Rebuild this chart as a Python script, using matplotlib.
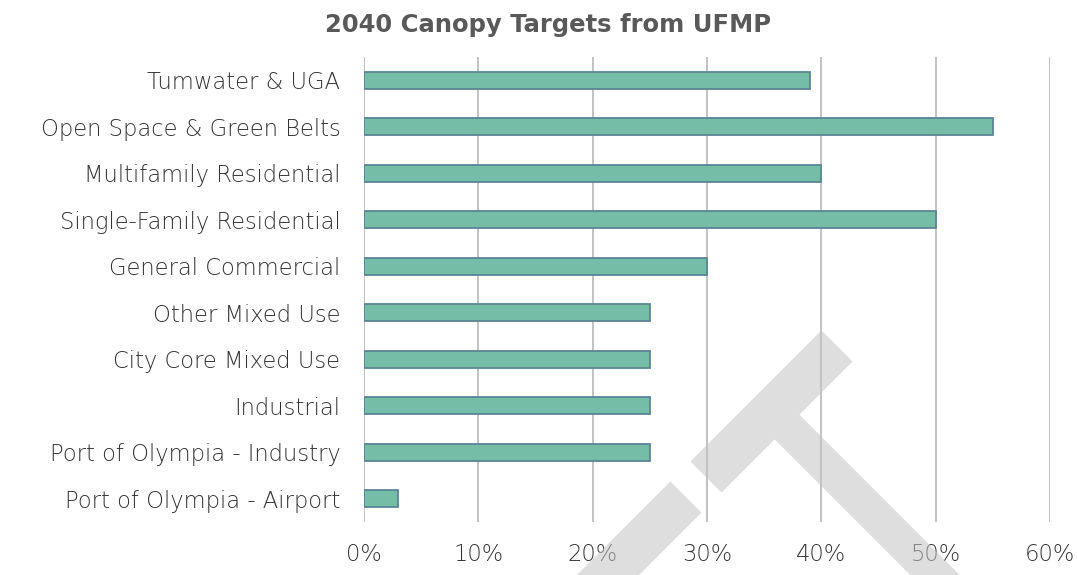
import matplotlib
matplotlib.use("Agg")
import numpy as np
import matplotlib.pyplot as plt
from matplotlib.patches import Polygon
from matplotlib.ticker import FuncFormatter

categories = ["Tumwater & UGA", "Open Space & Green Belts", "Multifamily Residential",
              "Single-Family Residential", "General Commercial", "Other Mixed Use",
              "City Core Mixed Use", "Industrial", "Port of Olympia - Industry",
              "Port of Olympia - Airport"]
values = [0.39, 0.55, 0.40, 0.50, 0.30, 0.25, 0.25, 0.25, 0.25, 0.03]
xticks = [0, 0.1, 0.2, 0.3, 0.4, 0.5, 0.6]

W, H = 1077, 575
fig = plt.figure(figsize=(W / 100, H / 100), dpi=100)
ax = fig.add_axes([364 / W, 1 - 522 / H, (1050 - 364) / W, (522 - 57) / H])

fam = ["DejaVu Sans"]
txt = "#333333"

ypos = list(range(len(categories)))
ax.barh(ypos, values, height=0.36, color="#75BDA7", edgecolor="#5B8494", linewidth=1.3, zorder=3)
ax.set_yticks(ypos)
ax.set_yticklabels(categories, fontsize=16.3, color=txt, family=fam, fontweight=200)
ax.set_ylim(len(categories) - 0.5, -0.5)
ax.set_xlim(0, 0.6)
ax.set_xticks(xticks)
ax.xaxis.set_major_formatter(FuncFormatter(lambda v, p: f"{round(v * 100)}%"))
for lab in ax.get_xticklabels():
    lab.set_fontsize(16.3)
    lab.set_color(txt)
    lab.set_family(fam)
    lab.set_fontweight(200)
ax.tick_params(axis="both", length=0)
ax.tick_params(axis="y", pad=17)
ax.tick_params(axis="x", pad=15)
ax.grid(axis="x", color="#b8b8b8", linewidth=1.2, zorder=0)
ax.set_axisbelow(True)
for s in ax.spines.values():
    s.set_visible(False)

fig.text(548 / W, 1 - 25 / H, "2040 Canopy Targets from UFMP", ha="center", va="center",
         fontsize=17.5, fontweight="bold", color="#595959", family=fam)

# watermark (decorative, in figure pixel coordinates, y down)
u = np.array([1.0, -1.0]) / np.sqrt(2)
n = np.array([1.0, 1.0]) / np.sqrt(2)
A = np.array([706.0, 477.0]); B = np.array([837.0, 346.0])
P = np.array([771.5, 411.5]); E = P + 260 * n
hw, sw = 22.0, 17.5
tpts = [A - hw * n, B - hw * n, B + hw * n, P + hw * n + sw * u, E + sw * u,
        E - sw * u, P + hw * n - sw * u, A + hw * n]
C = np.array([686.0, 497.0]); D = C - 140 * u
hpts = [C - hw * n, C + hw * n, D + hw * n, D - hw * n]

def tofig(pts):
    return [(x / W, 1 - y / H) for x, y in pts]

for pts in (tpts, hpts):
    fig.add_artist(Polygon(tofig(pts), closed=True, transform=fig.transFigure,
                           facecolor="#c4c4c4", edgecolor="none", alpha=0.55, zorder=10))

fig.savefig("out.png", dpi=100)
